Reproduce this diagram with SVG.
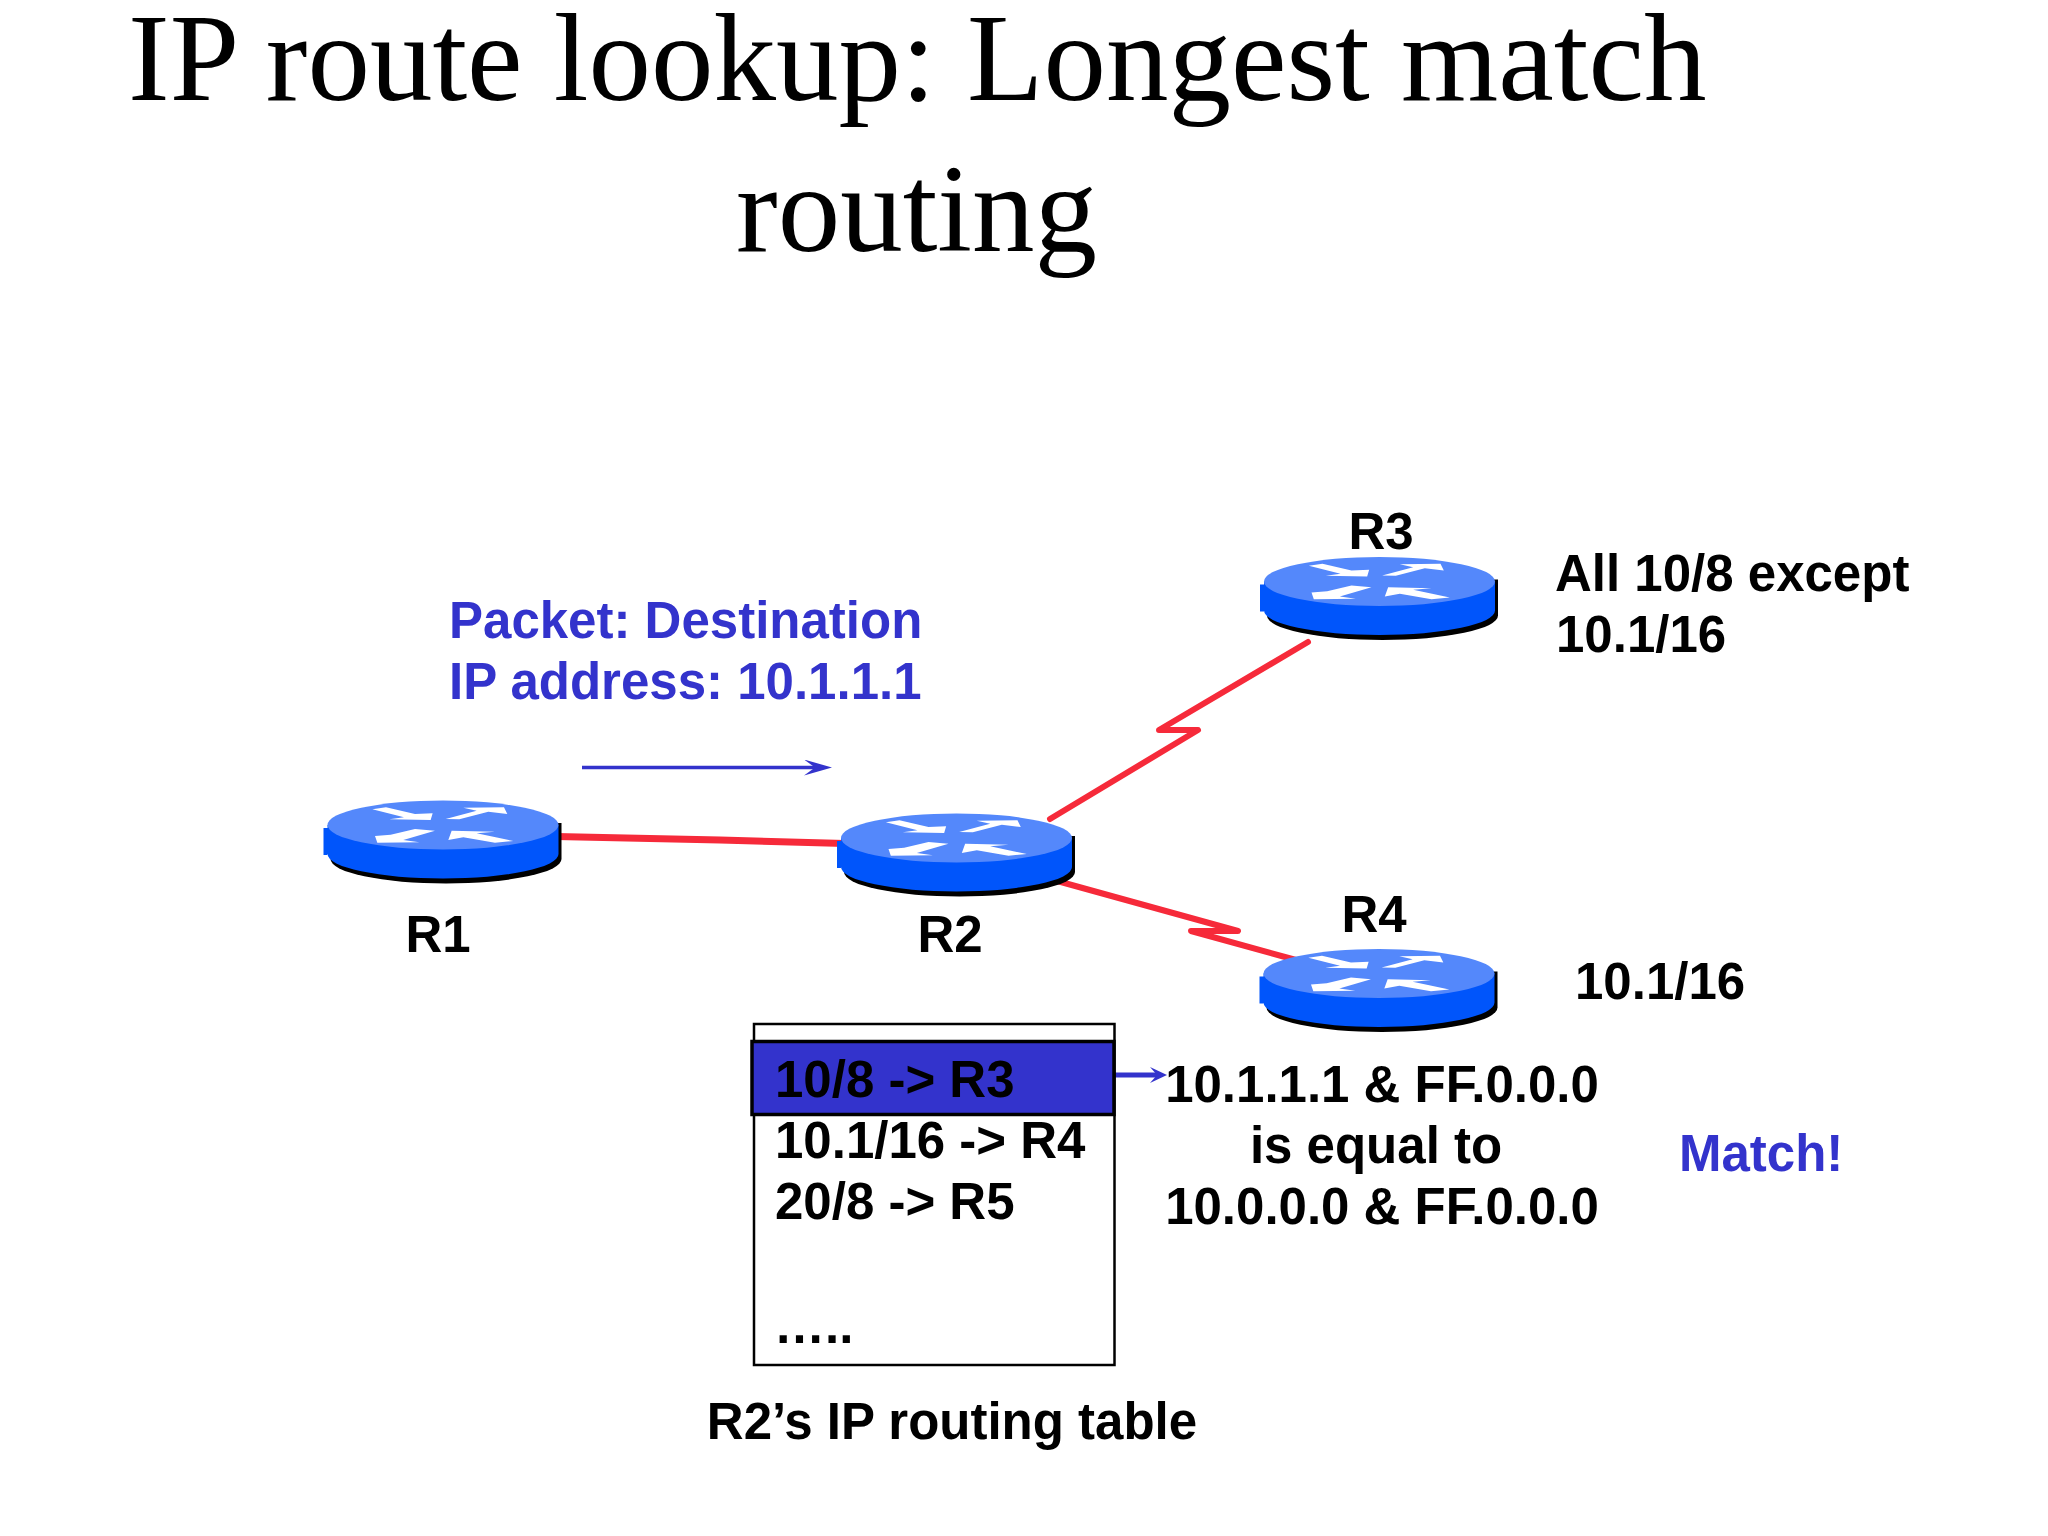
<svg xmlns="http://www.w3.org/2000/svg" width="2048" height="1536" viewBox="0 0 2048 1536">
<style>
.t{font-family:"Liberation Serif","Times New Roman",serif;font-size:125px;fill:#000}
.b{font-family:"Liberation Sans",Arial,sans-serif;font-weight:700;font-size:51px;fill:#000}
.u{fill:#3333cc}
.m{text-anchor:middle}
.link{fill:none;stroke:#f62a3a;stroke-width:6;stroke-linecap:round;stroke-linejoin:round}
</style>
<defs>
<marker id="ah" markerWidth="28" markerHeight="16" refX="16" refY="8" orient="auto" markerUnits="userSpaceOnUse"><path d="M0 0L28 8L0 16L11 8Z" fill="#3333cc"/></marker>
<marker id="ah2" markerWidth="17" markerHeight="16" refX="10" refY="8" orient="auto" markerUnits="userSpaceOnUse"><path d="M0 0L17 8L0 16L7 8Z" fill="#3333cc"/></marker>
<g id="router">
<path d="M-112.500 34A115.500 24.500 0 0 0 118.500 34V-2H-112.500Z" fill="#000"/>
<path d="M-119.500 3H-115.500V0H115.500V29A115.500 24.500 0 0 1 -115.500 29V30H-119.500Z" fill="#0055fb"/>
<ellipse cx="0" cy="0" rx="115.500" ry="24.500" fill="#5488fb"/>
<g transform="translate(-143,-65) scale(.3333)" fill="#fff">
<polygon points="217,148 258,142 345,162 398,160 392,180 268,178 312,172"/>
<polygon points="437,177 530,152 490,143 612,142 622,162 565,155 478,178"/>
<polygon points="405,212 345,207 272,224 225,228 232,248 358,247 310,240"/>
<polygon points="445,240 455,212 585,215 530,220 640,243 585,248 490,232"/>
</g>
</g>
</defs>
<rect width="2048" height="1536" fill="#fff"/>
<g id="title">
<text class="t" x="128" y="100">IP route lookup: Longest match</text>
<text class="t" x="736" y="251">routing</text>
</g>
<g id="connectors">
<path class="link" stroke-width="7" d="M556 836.500L720 840L845 843.500" style="stroke-width:7"/>
<path class="link" d="M1050 819L1198 730L1159 730L1308 642"/>
<path class="link" d="M1050 879L1238 931L1191 931L1296 960"/>
<path d="M582 767.500H820" fill="none" stroke="#3333cc" stroke-width="3.500" marker-end="url(#ah)"/>
<path d="M1115 1075H1160" fill="none" stroke="#3333cc" stroke-width="5" marker-end="url(#ah2)"/>
</g>
<g id="R1"><use href="#router" x="443" y="825"/><text class="b m" x="438" y="952">R1</text></g>
<g id="R2"><use href="#router" x="956.500" y="838"/><text class="b m" x="950" y="952">R2</text></g>
<g id="R3"><use href="#router" x="1379.500" y="581.500"/><text class="b m" x="1381" y="549">R3</text>
<text class="b" x="1555" y="591">All 10/8 except</text><text class="b" x="1556" y="652">10.1/16</text></g>
<g id="R4"><use href="#router" x="1379" y="973.500"/><text class="b m" x="1374" y="932">R4</text>
<text class="b" x="1575" y="999">10.1/16</text></g>
<g id="packet">
<text class="b u" x="449" y="638">Packet: Destination</text>
<text class="b u" x="449" y="699">IP address: 10.1.1.1</text>
</g>
<g id="table">
<rect x="754" y="1024" width="360.500" height="341" fill="#fff" stroke="#000" stroke-width="2.500"/>
<rect x="752" y="1041.500" width="362" height="73" fill="#3333cc" stroke="#000" stroke-width="3.500"/>
<text class="b" x="775" y="1097">10/8 -&gt; R3</text>
<text class="b" x="775" y="1158">10.1/16 -&gt; R4</text>
<text class="b" x="775" y="1219">20/8 -&gt; R5</text>
<text class="b" x="774" y="1343">…..</text>
<text class="b m" x="952" y="1439">R2’s IP routing table</text>
</g>
<g id="calc">
<text class="b m" x="1382" y="1102">10.1.1.1 &amp; FF.0.0.0</text>
<text class="b m" x="1376" y="1163">is equal to</text>
<text class="b m" x="1382" y="1224">10.0.0.0 &amp; FF.0.0.0</text>
<text class="b u" x="1679" y="1171">Match!</text>
</g>
</svg>
